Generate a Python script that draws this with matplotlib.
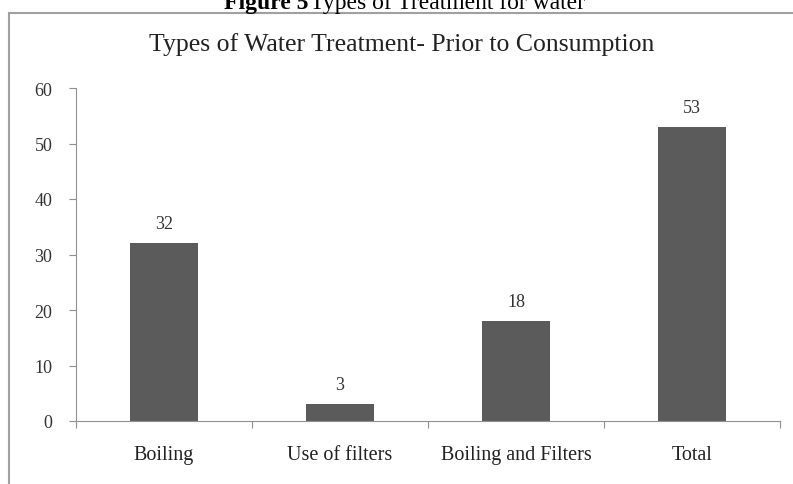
import matplotlib.pyplot as plt
from matplotlib.patches import Rectangle

# Water treatment before consumption
categories = ["Boiling", "Use of filters", "Boiling and Filters", "Total"]
counts = [32, 3, 18, 53]
y_ticks = [0, 10, 20, 30, 40, 50, 60]

plt.rcParams['font.family'] = ['Liberation Serif', 'DejaVu Serif']

fig = plt.figure(figsize=(7.93, 4.85), dpi=100)
W, H = 793, 485

# caption above the chart frame (partly cut off at the top)
fig.text(308 / W, 1 - 9 / H, "Figure 5", fontsize=17, fontweight='bold',
         ha='right', va='baseline')
fig.text(310 / W, 1 - 9 / H, "Types of Treatment for water", fontsize=17,
         ha='left', va='baseline')

# chart frame
fig.add_artist(Rectangle((9 / W, -0.1), 1.2, 1 - 14 / H + 0.1,
                         transform=fig.transFigure, fill=False,
                         edgecolor='#a0a0a0', linewidth=1.5))

ax = fig.add_axes([76 / W, (H - 422) / H, (780 - 76) / W, (422 - 89) / H])
x = list(range(len(categories)))
bars = ax.bar(x, counts, width=0.39, color='#5b5b5b')
ax.bar_label(bars, labels=[str(c) for c in counts], padding=8, fontsize=13,
             color='#333333')

ax.set_xlim(-0.5, len(categories) - 0.5)
ax.set_ylim(0, 60)
ax.set_yticks(y_ticks)
ax.set_yticklabels([str(t) for t in y_ticks], fontsize=13, color='#333333')

# boundary ticks between categories, labels centred under the bars
ax.set_xticks([i - 0.5 for i in range(len(categories) + 1)])
ax.set_xticklabels([])
ax.set_xticks(x, minor=True)
ax.set_xticklabels(categories, minor=True, fontsize=14.5, color='#222222')
ax.tick_params(axis='x', which='minor', length=0, pad=17)
ax.tick_params(axis='x', which='major', length=5, color='#909090')
ax.tick_params(axis='y', length=5, color='#909090', pad=12)

for side in ['top', 'right']:
    ax.spines[side].set_visible(False)
for side in ['left', 'bottom']:
    ax.spines[side].set_color('#909090')

fig.text(402 / W, 1 - 45 / H, "Types of Water Treatment- Prior to Consumption",
         fontsize=18.5, ha='center', va='center', color='#222222')

fig.savefig("out.png", dpi=100)
